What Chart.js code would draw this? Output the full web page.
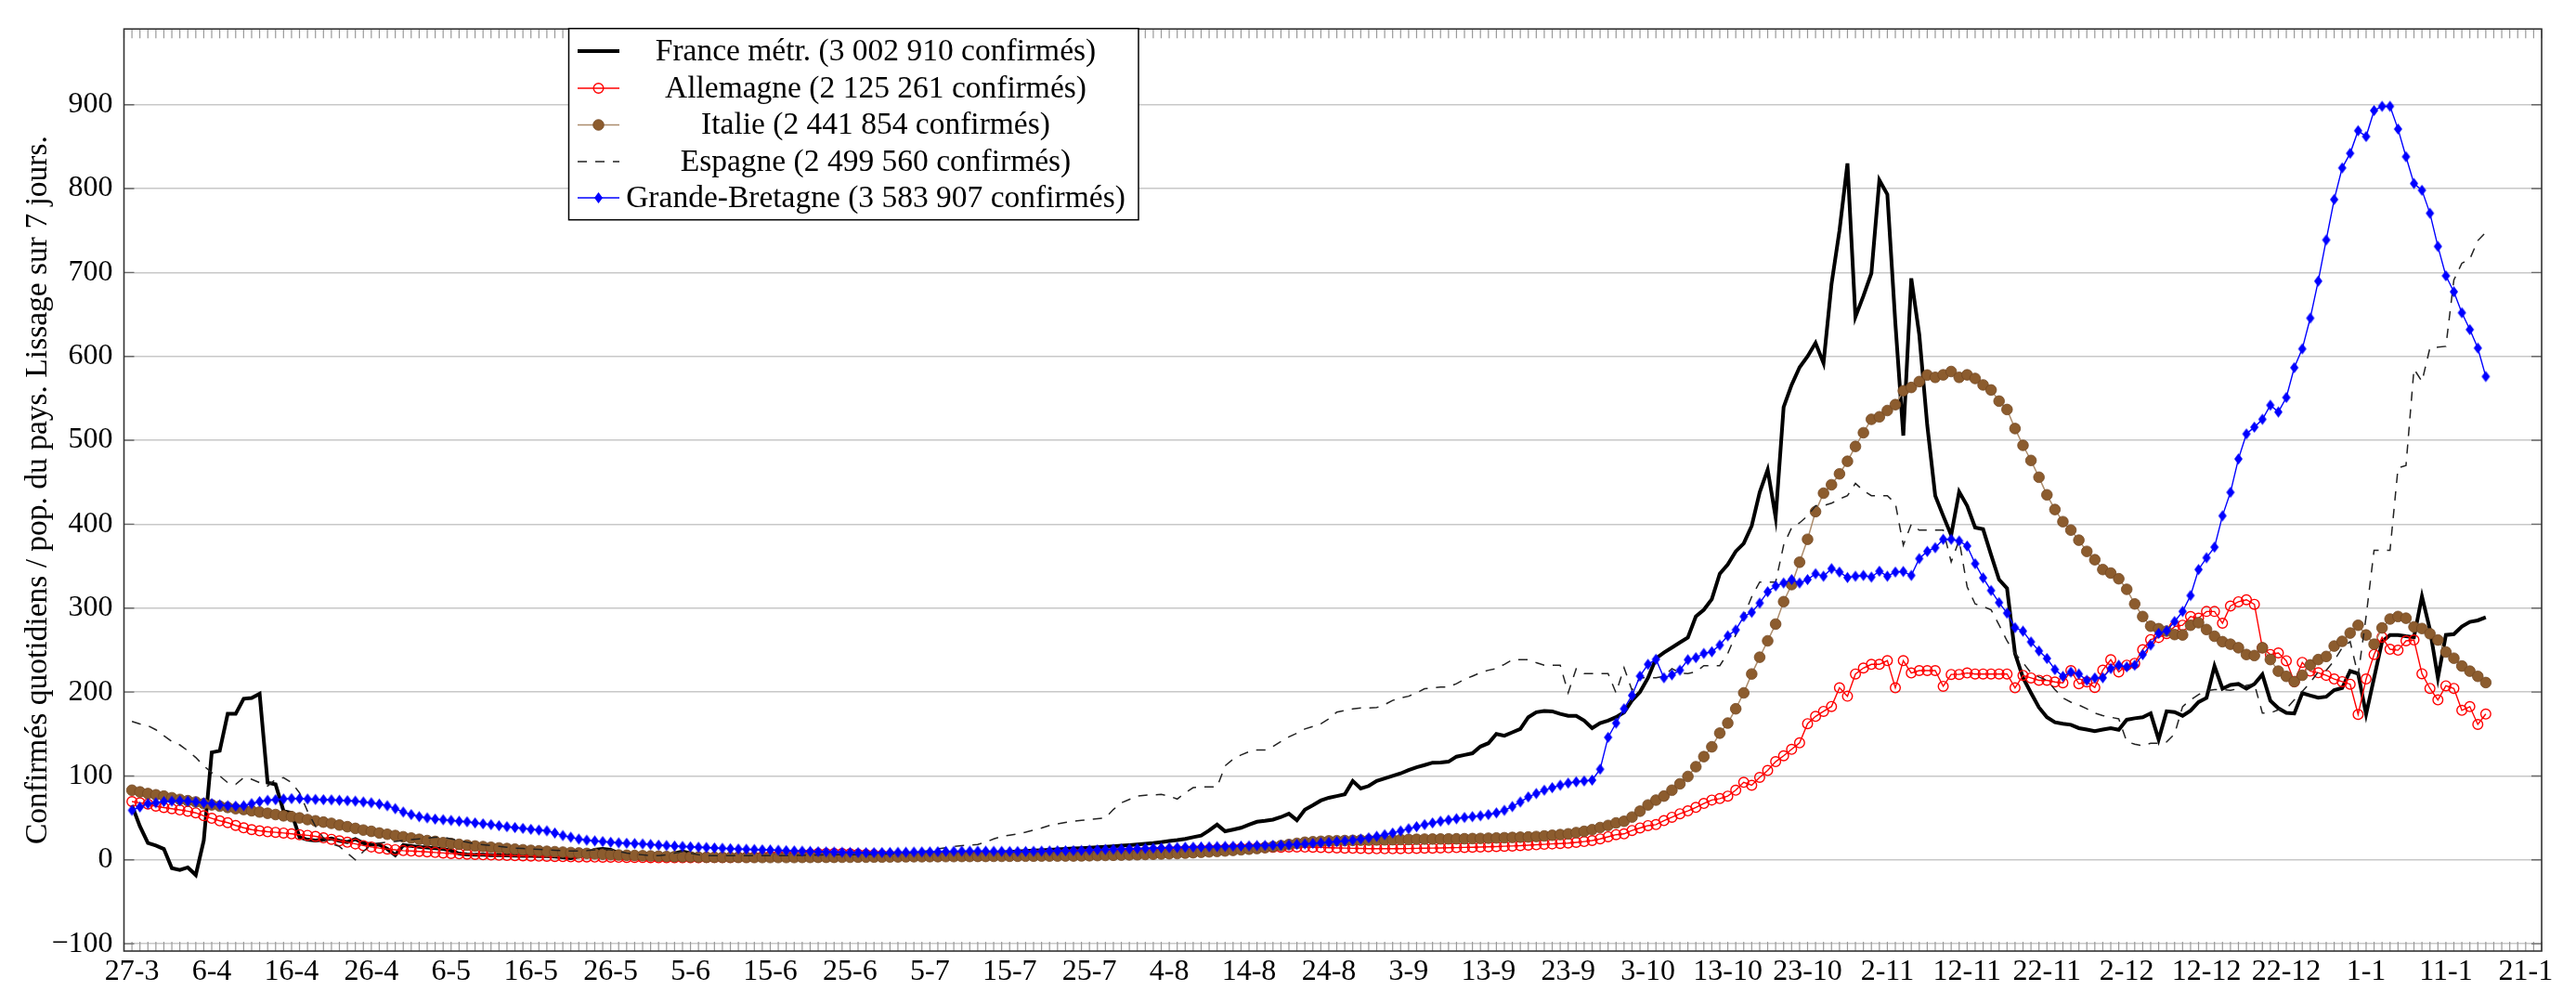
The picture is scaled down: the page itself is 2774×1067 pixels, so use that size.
<!DOCTYPE html>
<html><head><meta charset="utf-8">
<script src="https://cdn.jsdelivr.net/npm/chart.js@4.4.0/dist/chart.umd.min.js"></script>
<style>html,body{margin:0;padding:0;background:#fff;overflow:hidden}canvas{display:block}</style>
</head><body>
<canvas id="c" width="2774" height="1067"></canvas>
<script>
// ---- tick labels (x = days since 27-3) ----
const tickDays = [0,10,20,30,40,50,60,70,80,90,100,110,120,130,140,150,160,170,180,190,200,210,220,230,240,250,260,270,280,290,300];
const tickLabels = ['27-3','6-4','16-4','26-4','6-5','16-5','26-5','5-6','15-6','25-6','5-7','15-7','25-7','4-8','14-8','24-8','3-9','13-9','23-9','3-10','13-10','23-10','2-11','12-11','22-11','2-12','12-12','22-12','1-1','11-1','21-1'];
const yTickValues = [-100,0,100,200,300,400,500,600,700,800,900];
const yTitle = 'Confirmés quotidiens / pop. du pays. Lissage sur 7 jours.';
const seriesNames = ['France métr. (3 002 910 confirmés)','Allemagne (2 125 261 confirmés)','Italie (2 441 854 confirmés)','Espagne (2 499 560 confirmés)','Grande-Bretagne (3 583 907 confirmés)'];

// ---- daily values, one per day from 27-3 ----
const france = [
65,40,20,17,13,-10,-12,-9,-18,23,
128,130,174,174,192,193,198,92,90,58,
56,27,24,23,24,25.5,22.7,21.2,24.8,20,
18.3,18,13,5.7,17.6,16.5,15.4,14.7,14,13,
11,7.5,6.5,6,6,5.7,5.5,5.3,5,4.8,
4.7,4.6,4.6,4,3,2,4,8,12,13,
12,8,5,4,4,4,4,5,8,10,
8,5,4,4,4,4.2,4.4,4.6,4.8,5,
5,5,5,5,5.2,5.4,5.5,5.6,5.7,5.8,
5.8,5.8,5.8,5.8,5.8,5.9,6,6,6,6,
6,6.3,6.6,7,7.3,7.6,8,8.3,8.6,9,
9.5,10,10.5,11,11.5,12,12.5,13,13.5,14,
14.5,15,15.5,16.2,17,17.6,18.4,19.2,20,21.2,
22.4,23.5,25,27,29,35,42,34,36,38.2,
42,45.4,46.5,48,51,55,47.2,59.8,65,70.7,
74,76,78,94,85,88,94,97,100,103,
107,110.4,113,115.8,116,117,123,125,127,135,
139,150,148,152,156,170,176,177.5,177,174,
171.7,171.7,166,157,163,166,170,175.8,190,200,
216.8,240,247,253,259,265,290,298,310.7,341,
352,367.6,377,398,438,465,408,539.6,566,587,
600,616,592,686,750,830,647,672,699,810,
793,640,505.6,693,626,518,434,410,387,438.7,
422,396,394,363.5,334,323.6,246,217,199,181.6,
170,164,162.3,161,157,155.2,153.5,155.2,157,155,
167,168.7,170,174.6,143.5,177,176,171.7,177.8,188,
193,231,204,208.5,209.6,204,209.6,221,189.7,180.7,
175.3,174.5,198.7,195.8,193.3,194.4,202.3,204.8,225,222,
173.5,216.8,260,268,268,266.5,265.3,314,274.5,216.8,
268,269,278,283.6,285.4,289];

const allemagne = [
69.5,68,66.5,64,62.3,61,59.5,58,56,52.5,
49.5,46.5,44.3,41,38.2,36,34.6,33.5,32.8,32,
31,30,29.2,28,26.3,24.5,22.7,21,19,17,
15.4,14,12.9,12,11,10.5,10,9.5,8.8,8.2,
7.6,7.2,6.8,6.4,6.1,5.8,5.5,5.2,5,4.8,
4.6,4.4,4.2,4,3.8,3.6,3.5,3.4,3.3,3.2,
3.1,3,2.9,2.8,2.7,2.6,2.5,2.5,2.5,2.5,
2.6,2.6,2.7,2.7,2.8,2.9,3,3.2,3.5,3.9,
4.4,5,5.6,6.2,6.7,7.1,7.4,7.5,7.5,7.4,
7.2,6.8,6.4,6,5.6,5.2,5,4.8,4.7,4.7,
4.8,4.9,5,5.1,5.2,5.3,5.4,5.5,5.6,5.7,
5.8,6,6.2,6.4,6.6,6.8,7,7.2,7.4,7.6,
7.8,8,8.3,8.6,8.9,9.2,9.5,9.8,10.1,10.4,
10.7,11,11.3,11.6,11.9,12.2,12.5,12.8,13.2,13.6,
14,14.3,14.6,14.9,15.1,15.3,15.3,15.2,15,14.8,
14.5,14.2,14,13.8,13.6,13.4,13.3,13.3,13.3,13.4,
13.5,13.7,13.9,14,14.2,14.4,14.6,14.8,15,15.3,
15.6,15.9,16.2,16.5,17,17.5,18,18.5,19,19.5,
20,20.8,21.8,23,25,27.5,30,31,35,38,
40.8,42,46.7,50.8,54.9,58.4,62.5,67.2,71.3,73,
76,83,92.4,88.9,98.3,106.5,117,124,131.7,139.4,
162.3,171,177,182.8,205,195,221.5,228.6,233,233,
237.4,205,237.4,222.7,225.6,225.6,225.6,206.8,221,221,
222.7,221.5,221.5,221.5,221.5,221.5,205,219.8,216.8,214,
214,212,211,225.6,209.8,212,205.5,226,238.5,224,
232,234.2,250.5,262.5,265,269.6,278,279.6,290,288,
296,296,282,302.5,307.6,310,304.5,252.8,244.7,246.6,
237.3,212.4,235.3,224.9,223,219.9,215.5,212.4,209.3,173.3,
215.5,244.7,265.3,251,249.8,261,262,221.8,204.3,190.6,
207.4,204.3,178.2,182.6,161.4,173.8];

const italie = [
83,81,79,77.5,76,74,72,70.5,69,67,
65.5,64,62.5,61,60,58.5,57,55.5,54,52.5,
51.5,50,48,46.5,45,43.5,41.5,39.5,37.5,35.5,
34,32,30.5,29,27.5,26,24.5,23,22,20.5,
19.5,18.5,17.5,16.5,15.8,15,14.2,13.5,12.8,12,
11.3,10.7,10.2,9.7,9.2,8.7,8.2,7.7,7.2,6.7,
6.2,5.8,5.5,5.2,4.9,4.6,4.3,4,3.8,3.6,
3.4,3.2,3,3,2.9,2.9,2.9,2.8,2.8,2.8,
2.8,2.8,2.8,2.8,2.9,2.9,3,3,3,3.1,
3.1,3.2,3.2,3.3,3.3,3.4,3.5,3.6,3.7,3.7,
3.8,3.8,3.9,3.9,4,4,4.1,4.1,4.2,4.2,
4.3,4.3,4.4,4.4,4.5,4.5,4.5,4.6,4.6,4.7,
4.9,5.1,5.3,5.5,5.7,5.9,6.1,6.4,6.7,7,
7.3,7.5,8,8.5,9,9.5,10,10.6,11.3,12,
12.7,13.5,14.5,15.7,17,18.3,19.7,21,21.6,22.1,
22.6,22.8,23,23.2,23.4,23.5,23.7,23.8,24,24.2,
24.3,24.5,24.7,24.8,24.9,25,25.1,25.2,25.4,25.5,
25.8,26.1,26.4,26.7,27,27.3,27.8,28.5,29.3,30.1,
31,32.5,34,36,38.5,41,44,46,51,58,
65.4,71.2,76,83,90.6,99.4,111,123,134.7,151,
163,180,199,221.5,241.5,261,281,307.7,328,354.7,
382,415,437,447,460,475,492.7,509,525,528,
535.5,542.5,559,563,570,577.8,575,578,582,575,
578,573.7,566,560,546.7,536.7,514,494,476,456,
435,417.5,403,393,381,367.6,357.7,346,341.8,335,
322.4,305,290,278.5,275.5,272.6,268.5,268,279.6,282.6,
274.5,266.5,260,257,252.8,244.7,243.5,252.8,238.7,224.9,
218.7,212.4,220,232.3,238.7,242.4,254.8,260.4,270.3,279.6,
268,257,276.4,287,290,288,277.6,275.7,269.5,262,
247.7,240.3,231,224.9,218.7,211.3];

const espagne = [
165,162,160,155,148,141,137,130,122,112,
104,100,92,90,98,96,92,88,96,98,
92,80,58,40,26,19,16,8,0,10,
18,20,21,22,23,24,25,26,27,27,
25,23,21,19,18,17,16,15,14,13.5,
13,12.5,12,11.5,11,10.5,10.5,11,12,13,
12,10,8,7,6,5,5,6,8,10,
8,6,5,5,5,5,5,5,5,5,
5,5,5,5.2,5.4,5.6,5.8,6,6,6,
6,6.2,6.4,6.6,6.8,7,7.5,8,9,10,
11,13,14.5,16,17,17.5,18.3,21,25,28,
29.5,31,33,35.5,38,41,43,44.5,46,47,
48,49,50,60,68,72,76,77,77.5,78,
76,72.5,80,86,87,87,87,112,120,125,
129,131,131,135,141,146.5,151,156,159,162,
168,176,178,180,181,181,181.5,185,190,193,
195,199,204,205,206,206,210,215,219,223,
226,228,233,238.5,238.5,238.5,235,232,232,232,
199,227.6,222,222,222,222,199,229,202,217,
217,217,218.6,228,222.7,222,224,231.5,231.5,231.5,
246,268,290,313.6,331,331,331,375,395.8,401.6,
410,422,422,425,430,434,448.6,440,434,434,
434,425,375,400,393,393,393,393,355,381,
325.5,305,302,298,280,261,246,235,222.7,218,
214,203,193,188,184.6,180,175,172,170,168,
141,137.8,136,139,139,140.6,150,182.6,190.6,197,
201.6,203,203,202,204,207.8,209.5,175,175,178.8,
180,190.6,200.6,211.4,224,225.8,237.4,252.8,260,220,
290,369,369,369,467,470,585,570,610,611,
612,691,711,716,738,748];

const grandeBretagne = [
59,63,67,68,69.5,70,70.5,70,69,68,
67,65.5,64.5,64,64.5,67,69.5,71,71.7,72.5,
73,73,72.5,72,71.7,71.5,71,70.5,70,69,
68,66.5,64.5,61,57,54,51.5,50,48.6,47.8,
47,46,45.4,44,43,42,40.7,39.5,38.5,37.5,
36.4,35.5,34.6,32,29,27,24.8,23.5,22.6,21.8,
21,20.3,19.8,19.4,19,18.3,17.6,17,16.5,16,
15.5,15,14.7,14.2,13.8,13.3,12.9,12.6,12.3,12,
11.8,11.4,11,10.7,10.4,10.1,9.8,9.5,9.3,9.1,
8.9,8.7,8.6,8.6,8.7,8.8,9,9.1,9.3,9.4,
9.5,9.7,10,10.2,10.3,10.4,10.4,10.3,10.2,10.1,
10,10,10,10.2,10.4,10.6,10.8,10.9,11,11.2,
11.6,12,12.3,12.6,12.8,13,13.3,13.6,13.9,14.2,
14.5,14.7,15,15.2,15.4,15.6,15.8,16,16.2,16.4,
16.7,17,17.2,17.4,17.6,18,18.5,19,19.6,20.3,
21,21.8,22.6,23.5,24.8,26.3,28,30,32,34.5,
37,39.5,42,44,46,47.5,49,50.5,51.5,52.5,
54,56,59,63.5,69,75,79,83,86,89,
91.5,93,94,95,108,146,163,180,196,219,
233,239,217,220.5,226,238.5,241,246,248,256,
267,274,290,295,306,319.5,326.5,330,334,330,
334,341,338,347,343,336.5,338,339,337,344,
338,343,343.6,339,359,367.6,372,382,382,380,
374,353,336,321,306.6,294,276.7,272.6,259.7,249,
240,226.8,218.6,223.8,221.5,214,216.8,217,228,232,
230,232,244.6,256,270,273,284,296,315,346,
360,372.7,410,438,477.8,507.6,515.7,525,541.8,533.7,
551,586.6,609,645.6,689.7,738.8,787,824.6,842,869,
862,893,898,898,871,838,806,798,770.6,731,
696,677,652,632,610,576];

// ---- styling ----
const FONT = "'Liberation Serif', 'Times New Roman', serif";
const TICK_SIZE = 32;
const TEXT_SIZE = 33.5;
const BROWN = 'rgb(140,92,46)';
const TAN = 'rgb(172,140,108)';

function diamond(w, h, color) {
  const c = document.createElement('canvas');
  c.width = Math.ceil(w) + 2; c.height = Math.ceil(h) + 2;
  const g = c.getContext('2d');
  g.fillStyle = color;
  g.beginPath();
  g.moveTo(c.width / 2, 1);
  g.lineTo(c.width - 1, c.height / 2);
  g.lineTo(c.width / 2, c.height - 1);
  g.lineTo(1, c.height / 2);
  g.closePath();
  g.fill();
  return c;
}
const diamondImg = diamond(8.5, 11.5, 'rgb(0,0,255)');

const toXY = arr => arr.map((v, i) => ({x: i, y: v}));

const datasets = [
  {label: seriesNames[0], data: toXY(france), borderColor: '#000', borderWidth: 4, pointRadius: 0, order: 5, borderJoinStyle: 'miter'},
  {label: seriesNames[1], data: toXY(allemagne), borderColor: 'rgb(255,0,0)', borderWidth: 1.4, pointRadius: 5.3, pointStyle: 'circle', pointBorderColor: 'rgb(255,0,0)', pointBackgroundColor: 'rgba(0,0,0,0)', pointBorderWidth: 1.4, order: 4},
  {label: seriesNames[2], data: toXY(italie), borderColor: TAN, borderWidth: 1.5, pointRadius: 5.8, pointStyle: 'circle', pointBorderColor: 'rgb(115,72,34)', pointBackgroundColor: BROWN, pointBorderWidth: 0.8, order: 3},
  {label: seriesNames[3], data: toXY(espagne), borderColor: '#222', borderWidth: 1.5, borderDash: [10, 9], pointRadius: 0, order: 2},
  {label: seriesNames[4], data: toXY(grandeBretagne), borderColor: 'rgb(0,0,255)', borderWidth: 1.4, pointRadius: 6, pointStyle: diamondImg, order: 1}
];

const framePlugin = {
  id: 'frame',
  beforeDatasetsDraw(chart) {
    const {ctx, chartArea: {left, right, top, bottom}, scales: {x, y}} = chart;
    ctx.save();
    ctx.strokeStyle = '#9a9a9a';
    ctx.lineWidth = 1.2;
    ctx.beginPath();
    for (let d = Math.ceil(x.min); d <= Math.floor(x.max); d++) {
      const px = x.getPixelForValue(d);
      ctx.moveTo(px, bottom); ctx.lineTo(px, bottom - 10);
      ctx.moveTo(px, top); ctx.lineTo(px, top + 10);
    }
    ctx.stroke();
    ctx.strokeStyle = '#6a6a6a';
    ctx.lineWidth = 1.4;
    ctx.beginPath();
    yTickValues.forEach(v => {
      const py = y.getPixelForValue(v);
      ctx.moveTo(left, py); ctx.lineTo(left + 11, py);
      ctx.moveTo(right, py); ctx.lineTo(right - 11, py);
    });
    ctx.stroke();
    ctx.restore();
  },
  afterDatasetsDraw(chart) {
    const {ctx, chartArea: {left, right, top, bottom}} = chart;
    ctx.save();
    ctx.strokeStyle = '#333';
    ctx.lineWidth = 1.6;
    ctx.strokeRect(left, top, right - left, bottom - top);
    ctx.restore();
  }
};

const legendPlugin = {
  id: 'boxLegend',
  afterDraw(chart) {
    const ctx = chart.ctx;
    const x0 = 612.5, y0 = 30.7, x1 = 1226, y1 = 236.7;
    const rows = [55, 95, 134.5, 174, 213];
    const sx0 = 622, sx1 = 667, mx = 644.5, tx = 943;
    ctx.save();
    ctx.fillStyle = '#fff';
    ctx.fillRect(x0, y0, x1 - x0, y1 - y0);
    ctx.strokeStyle = '#000';
    ctx.lineWidth = 1.5;
    ctx.strokeRect(x0, y0, x1 - x0, y1 - y0);
    chart.data.datasets.forEach((ds, i) => {
      const yy = rows[i];
      ctx.save();
      ctx.strokeStyle = ds.borderColor;
      ctx.lineWidth = ds.borderWidth;
      ctx.setLineDash(ds.borderDash || []);
      ctx.beginPath(); ctx.moveTo(sx0, yy); ctx.lineTo(sx1, yy); ctx.stroke();
      ctx.setLineDash([]);
      if (ds.pointStyle instanceof HTMLCanvasElement) {
        ctx.drawImage(ds.pointStyle, mx - ds.pointStyle.width / 2, yy - ds.pointStyle.height / 2);
      } else if (ds.pointRadius > 0) {
        ctx.beginPath(); ctx.arc(mx, yy, ds.pointRadius, 0, Math.PI * 2);
        ctx.fillStyle = ds.pointBackgroundColor; ctx.fill();
        ctx.lineWidth = ds.pointBorderWidth; ctx.strokeStyle = ds.pointBorderColor; ctx.stroke();
      }
      ctx.restore();
      ctx.fillStyle = '#000';
      ctx.font = TEXT_SIZE + 'px ' + FONT;
      ctx.textAlign = 'center';
      ctx.textBaseline = 'middle';
      ctx.fillText(ds.label, tx, yy + 1);
    });
    ctx.restore();
  }
};

new Chart(document.getElementById('c'), {
  type: 'line',
  data: {datasets},
  plugins: [framePlugin, legendPlugin],
  options: {
    responsive: false,
    animation: false,
    devicePixelRatio: 1,
    layout: {padding: {top: 9, right: 37, left: 0, bottom: 0}},
    plugins: {legend: {display: false}, tooltip: {enabled: false}},
    scales: {
      x: {
        type: 'linear', min: -1, max: 302,
        afterFit(s) { s.height = 43; },
        afterBuildTicks(s) { s.ticks = tickDays.map(v => ({value: v})); },
        ticks: {autoSkip: false, maxRotation: 0, minRotation: 0, padding: 3, color: '#000',
          font: {family: FONT, size: TICK_SIZE},
          callback: (v, i) => tickLabels[i]},
        grid: {display: false, drawTicks: false},
        border: {display: false}
      },
      y: {
        type: 'linear', min: -108.7, max: 990.2,
        afterFit(s) { s.width = 133.5; },
        afterBuildTicks(s) { s.ticks = yTickValues.map(v => ({value: v})); },
        ticks: {padding: 12, color: '#000', font: {family: FONT, size: TICK_SIZE},
          callback: v => (v < 0 ? '\u2212' + Math.abs(v) : String(v))},
        grid: {color: '#c8c8c8', lineWidth: 1.5, drawTicks: false},
        border: {display: false},
        title: {display: true, text: yTitle, color: '#000', font: {family: FONT, size: TEXT_SIZE}, padding: {top: 21, bottom: 0}}
      }
    }
  }
});
</script>
</body></html>
